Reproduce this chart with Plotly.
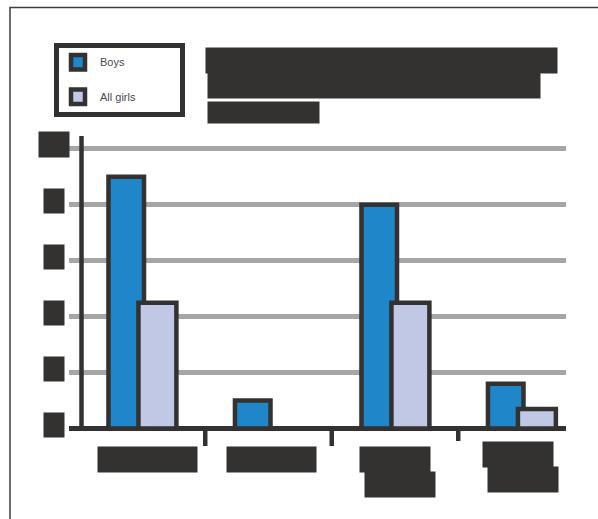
import plotly.graph_objects as go

# ---- data ----
categories = ["Homework", "Reading", "Video games", "Team sports"]
category_lines = [["Homework"], ["Reading"], ["Video", "games"], ["Team", "sports"]]
series_names = ["Boys", "All girls"]
boys = [9, 1, 8, 1.6]
girls = [4.5, None, 4.5, 0.7]
y_ticks = [0, 2, 4, 6, 8, 10]
y_tick_text = ["0", "2", "4", "6", "8", "10"]
title_lines = ["Average hours per week spent", "on each activity, pupils aged", "12 to 14"]

# ---- style ----
W, H = 598, 519
L, R, T, B = 69, 32, 136, 88
DARK = "#333230"
BLUE = "#1f86c9"
LAVENDER = "#c0c8e6"
GRID = "#a6a6a6"
FONT = "Liberation Sans, Arial, sans-serif"

PW, PH = W - L - R, H - T - B


def px_x(px):
    return (px - L) / PW


def px_y(py):
    return (T + PH - py) / PH


x_pos = list(range(len(categories)))

fig = go.Figure()
fig.add_trace(go.Bar(
    x=x_pos, y=boys, name=series_names[0], width=0.281, offset=-0.265,
    marker=dict(color=BLUE, line=dict(color=DARK, width=4.5)),
))
fig.add_trace(go.Bar(
    x=x_pos, y=girls, name=series_names[1], width=0.30, offset=-0.028,
    marker=dict(color=LAVENDER, line=dict(color=DARK, width=4.5)),
))

annotations = []
shapes = []

# y tick labels drawn as solid blocks
for v, t in zip(y_ticks, y_tick_text):
    wide = len(t) > 1
    annotations.append(dict(
        x=px_x(54), xref="paper", y=v, yref="y", yshift=4,
        xanchor="center", yanchor="middle", text=t, showarrow=False,
        width=30 if wide else 20, height=25 if wide else 24,
        bgcolor=DARK, borderpad=0, font=dict(family=FONT, size=13, color=DARK),
    ))

# category labels drawn as solid blocks, one per line
cat_block_w = [[99], [89], [70, 70], [70, 70]]
cat_top = [446, 446, 446, 441]
cat_shift = [[5.5], [3], [0, 5], [-3, 2]]
for i, lines in enumerate(category_lines):
    for j, line in enumerate(lines):
        annotations.append(dict(
            x=x_pos[i], xref="x", xshift=cat_shift[i][j],
            y=px_y(cat_top[i] + 24.5 * j), yref="paper",
            xanchor="center", yanchor="top", text=line, showarrow=False,
            width=cat_block_w[i][j], height=24.5,
            bgcolor=DARK, borderpad=0, font=dict(family=FONT, size=13, color=DARK),
        ))

# separators between categories, hanging below the baseline
sep_bottom = [446, 446, 441]
for k in range(len(categories) - 1):
    shapes.append(dict(type="line", xref="x", yref="paper",
                       x0=x_pos[k] + 0.5, x1=x_pos[k] + 0.5,
                       y0=px_y(428.5), y1=px_y(sep_bottom[k]),
                       line=dict(color=DARK, width=4.5), layer="above"))

# title drawn as solid blocks
title_boxes = [(205, 47, 351, 25), (207, 72, 332, 25), (207, 101, 111, 21)]
for text, (x0, y0, w, h) in zip(title_lines, title_boxes):
    annotations.append(dict(
        x=px_x(x0), xref="paper", y=px_y(y0), yref="paper",
        xanchor="left", yanchor="top", text=text, showarrow=False,
        width=w, height=h, bgcolor=DARK, borderpad=0,
        font=dict(family=FONT, size=14, color=DARK),
    ))

# legend box with swatches
shapes.append(dict(type="rect", xref="paper", yref="paper",
                   x0=px_x(56.5), x1=px_x(182.5), y0=px_y(45.5), y1=px_y(114.5),
                   line=dict(color=DARK, width=5), fillcolor="white", layer="above"))
swatch_colors = [BLUE, LAVENDER]
swatch_cy = [62.3, 96.7]
for name, col, cy in zip(series_names, swatch_colors, swatch_cy):
    shapes.append(dict(type="rect", xref="paper", yref="paper",
                       x0=px_x(71), x1=px_x(85), y0=px_y(cy + 7.3), y1=px_y(cy - 7.3),
                       line=dict(color=DARK, width=4.5), fillcolor=col, layer="above"))
    annotations.append(dict(
        x=px_x(98), xref="paper", y=px_y(cy), yref="paper",
        xanchor="left", yanchor="middle", text=name, showarrow=False,
        font=dict(family=FONT, size=11, color="#4a4a4a"),
    ))

# vertical value axis line
shapes.append(dict(type="line", xref="paper", yref="paper",
                   x0=px_x(81.5), x1=px_x(81.5), y0=px_y(428.5), y1=1,
                   line=dict(color=DARK, width=4.5), layer="above"))

# outer frame
shapes.append(dict(type="rect", xref="paper", yref="paper",
                   x0=px_x(10), x1=px_x(640), y0=px_y(560), y1=px_y(7.6),
                   line=dict(color="#3c3c3c", width=1.5), fillcolor="rgba(0,0,0,0)",
                   layer="above"))

fig.update_layout(
    width=W, height=H,
    margin=dict(l=L, r=R, t=T, b=B, pad=0),
    paper_bgcolor="white", plot_bgcolor="white",
    barmode="overlay",
    showlegend=False,
    annotations=annotations,
    shapes=shapes,
    xaxis=dict(
        range=[-0.577, 3.352], showline=False, ticks="",
        showticklabels=False, showgrid=False, zeroline=False,
        fixedrange=True,
    ),
    yaxis=dict(
        range=[-0.089, 10.458], tickvals=y_ticks, showticklabels=False,
        showgrid=True, gridcolor=GRID, gridwidth=4.5,
        zeroline=True, zerolinecolor=DARK, zerolinewidth=5,
        showline=False, ticks="", fixedrange=True,
    ),
)

fig.write_html("out.html", config={"displayModeBar": False})
